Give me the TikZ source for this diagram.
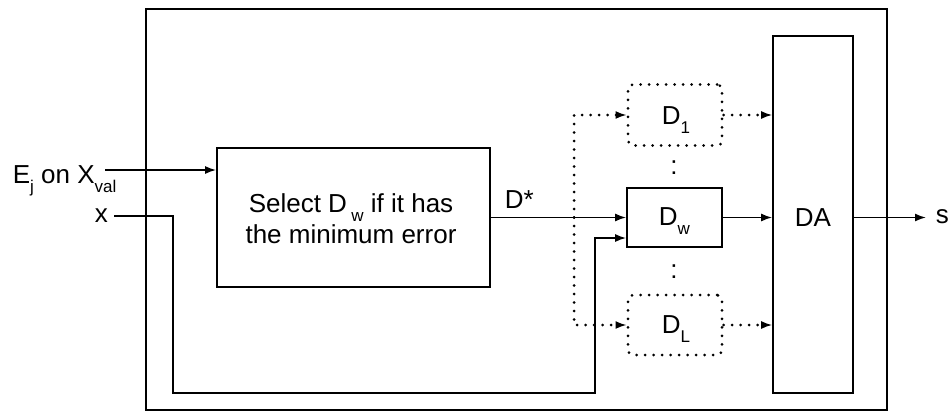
\documentclass[tikz,border=0pt]{standalone}
\usepackage{fontspec}
\setmainfont{Liberation Sans}
\usetikzlibrary{arrows.meta}
% lowered small index after a symbol
\newcommand{\lowsub}[1]{\raisebox{-9pt}{\fontsize{17}{17}\selectfont #1}}
\begin{document}
\begin{tikzpicture}[x=1pt,y=-1pt,
  line width=1.7pt,
  every node/.style={font=\fontsize{26}{31}\selectfont},
  box/.style={draw, inner sep=0pt, align=center},
  dotbox/.style={draw, inner sep=0pt, rounded corners=5pt, line width=3pt,
    line cap=round, dash pattern=on 0pt off 8.5pt},
  dotline/.style={line width=3pt, line cap=round, dash pattern=on 0pt off 8.5pt},
  arr/.style={-{Latex[length=11pt,width=8pt]}},
  lbl/.style={inner sep=0pt}]
\useasboundingbox (0,0) rectangle (949,418);

% enclosing frame
\node[box, minimum width=741pt, minimum height=401pt] (frame) at (516.5,209.5) {};

% selection block
\node[box, minimum width=273pt, minimum height=139pt] (select) at (353.5,217.5) {};
\node[lbl, align=center, anchor=base] (seltext) at (351,243)
  {Select D\,\lowsub{w} if it has\\the minimum error};

% ensemble members
\node[dotbox, minimum width=94pt, minimum height=61pt] (D1) at (675,115) {};
\node[lbl, anchor=base west] (D1text) at (661,124) {D\lowsub{1}};
\node[box, minimum width=95pt, minimum height=59pt] (Dw) at (674.5,217.5) {};
\node[lbl, anchor=base west] (Dwtext) at (658,225) {D\lowsub{w}};
\node[dotbox, minimum width=94pt, minimum height=60pt] (DL) at (675,325) {};
\node[lbl, anchor=base west] (DLtext) at (661,333) {D\lowsub{L}};
\node[lbl] (dotsup) at (674,168) {:};
\node[lbl] (dotsdown) at (674,272) {:};

% combiner
\node[box, minimum width=80pt, minimum height=357pt] (DA) at (813,214.5) {};
\node[lbl, anchor=base] (DAtext) at (813,226) {DA};

% inputs and output
\node[lbl, anchor=base west] (elabel) at (12,183) {E\lowsub{j} on X\lowsub{val}};
\coordinate (ein) at (105,170);
\node[lbl, anchor=base west] (xlabel) at (94,222) {x};
\coordinate (xin) at (114,216);
\node[lbl, anchor=base west] (slabel) at (935,223) {s};
\coordinate (sout) at (926,217.5);
\coordinate (split) at (574,217.5);
\node[lbl, anchor=base west] (dstar) at (504,208) {D*};

% connectors
\draw[arr] (ein) -- (ein -| select.west);
\draw[arr] (xin) -- (173,216) |- (595,393) |- ([yshift=-20.5pt]Dw.west);
\draw[arr] (select.east) -- (Dw.west);
\draw[dotline] (split) |- ([xshift=-8pt]D1.west);
\draw[dotline] (split) |- ([xshift=-8pt]DL.west);
\draw[arr] ([xshift=-9pt]D1.west) -- (D1.west);
\draw[arr] ([xshift=-9pt]DL.west) -- (DL.west);
\draw[dotline] (D1.east) -- ([xshift=-8pt]D1.east -| DA.west);
\draw[arr] ([xshift=-9pt]D1.east -| DA.west) -- (D1.east -| DA.west);
\draw[arr] (Dw.east) -- (Dw.east -| DA.west);
\draw[dotline] (DL.east) -- ([xshift=-8pt]DL.east -| DA.west);
\draw[arr] ([xshift=-9pt]DL.east -| DA.west) -- (DL.east -| DA.west);
\draw[arr] (DA.east |- sout) -- (sout);
\end{tikzpicture}
\end{document}
